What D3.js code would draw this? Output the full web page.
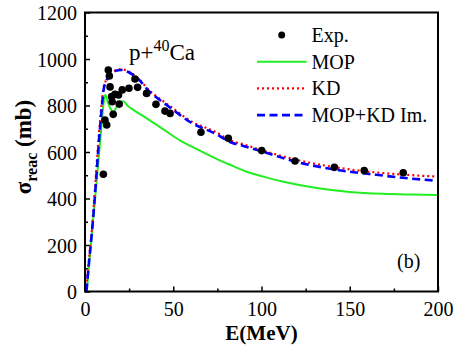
<!DOCTYPE html>
<html>
<head>
<meta charset="utf-8">
<script src="https://cdn.jsdelivr.net/npm/d3@7"></script>
<style>
  body { margin: 0; background: #fff; }
  text { font-family: "Liberation Serif", "Times New Roman", serif; }
</style>
</head>
<body>
<div id="chart"></div>
<script>
// experimental points [E (MeV), sigma (mb)]
var expData = [
  [10.4, 504], [11.3, 737], [12.3, 716], [13.2, 953], [13.8, 927],
  [14.2, 880], [15.1, 838], [15.4, 816], [16.0, 762], [17.0, 848],
  [19.0, 845], [19.4, 806], [21.1, 867], [24.9, 874], [28.3, 914],
  [29.8, 878], [34.9, 852], [40.2, 805], [45.3, 776], [48.2, 766],
  [65.7, 685], [81.2, 659], [100.1, 606], [119.0, 561], [141.3, 534],
  [158.2, 520], [180.3, 511]
];

var mopData = [
  [1, 0], [3, 175], [5, 340], [7, 510], [9, 680], [11, 835], [11.6, 845],
  [13, 812], [14.5, 785], [16, 773], [18, 795], [20, 812], [21.7, 818],
  [24, 800], [27.4, 781], [35, 745], [44.4, 697], [53.8, 650], [63.3, 612],
  [72.7, 577], [82.2, 545], [91.6, 515], [101, 494], [112.4, 472],
  [131.3, 445], [150, 428], [169, 420], [185, 417], [200, 415]
];

var kdData = [
  [0.5, 0], [2, 120], [3.8, 260], [6, 480], [7.5, 640], [8.5, 730],
  [10.4, 870], [12, 910], [14, 935], [17, 950], [20.5, 956], [25, 945],
  [30, 918], [36.8, 862], [40, 843], [49.1, 792], [59.5, 735], [74.6, 684],
  [82.2, 650], [89.7, 633], [100, 608], [120, 566], [135, 543], [150, 525],
  [165, 512], [180, 503], [200, 494]
];

var imData = [
  [0.8, 0], [2.2, 120], [4, 260], [6.3, 480], [7.8, 640], [8.8, 730],
  [10.6, 870], [12.2, 908], [14, 932], [17, 948], [20.5, 953], [25, 942],
  [30, 915], [36.8, 858], [40, 838], [49.1, 786], [59.5, 729], [74.6, 676],
  [82.2, 643], [89.7, 626], [100, 603], [120, 557], [135, 533], [150, 515],
  [165, 502], [180, 489], [200, 476]
];

var xTicks = [0, 50, 100, 150, 200];
var xMinor = [25, 75, 125, 175];
var yTicks = [0, 200, 400, 600, 800, 1000, 1200];
var yMinor = [100, 300, 500, 700, 900, 1100];

var legendItems = [
  { label: "Exp.", type: "dot" },
  { label: "MOP", type: "mop" },
  { label: "KD", type: "kd" },
  { label: "MOP+KD Im.", type: "im" }
];

var svg = d3.select("#chart").append("svg")
  .attr("width", 458)
  .attr("height", 351);

var pLeft = 85, pRight = 438, pTop = 12.5, pBottom = 291.5;

var x = d3.scaleLinear().domain([0, 200]).range([pLeft, pRight]);
var y = d3.scaleLinear().domain([0, 1200]).range([pBottom, pTop]);

svg.append("defs").append("clipPath").attr("id", "plotclip")
  .append("rect")
  .attr("x", pLeft).attr("y", pTop)
  .attr("width", pRight - pLeft).attr("height", pBottom - pTop);

// axes, ticks inward
var xAxis = svg.append("g")
  .attr("transform", "translate(0," + pBottom + ")")
  .call(d3.axisBottom(x).tickValues(xTicks).tickSize(-5).tickPadding(10).tickFormat(d3.format("d")));
var xAxisMinor = svg.append("g")
  .attr("transform", "translate(0," + pBottom + ")")
  .call(d3.axisBottom(x).tickValues(xMinor).tickSize(-3).tickFormat(""));
var yAxis = svg.append("g")
  .attr("transform", "translate(" + pLeft + ",0)")
  .call(d3.axisLeft(y).tickValues(yTicks).tickSize(-5).tickPadding(8).tickFormat(d3.format("d")));
var yAxisMinor = svg.append("g")
  .attr("transform", "translate(" + pLeft + ",0)")
  .call(d3.axisLeft(y).tickValues(yMinor).tickSize(-3).tickFormat(""));

[xAxis, xAxisMinor, yAxis, yAxisMinor].forEach(function (g) {
  g.select(".domain").remove();
  g.selectAll("line").attr("stroke", "#000").attr("stroke-width", 1.5);
  g.selectAll("text")
    .attr("fill", "#000")
    .style("font-family", "'Liberation Serif', 'Times New Roman', serif")
    .style("font-size", "20px");
});
xAxis.selectAll("text").attr("dy", "0.71em");
yAxis.selectAll("text").attr("dy", "0.35em");

// curves
var line = d3.line()
  .x(function (d) { return x(d[0]); })
  .y(function (d) { return y(d[1]); })
  .curve(d3.curveMonotoneX);

var curves = svg.append("g").attr("clip-path", "url(#plotclip)");

curves.append("path").datum(mopData)
  .attr("d", line)
  .attr("fill", "none")
  .attr("stroke", "#22ee22")
  .attr("stroke-width", 2);

curves.append("path").datum(kdData)
  .attr("d", line)
  .attr("fill", "none")
  .attr("stroke", "#ff0000")
  .attr("stroke-width", 2.2)
  .attr("stroke-dasharray", "2,3");

curves.append("path").datum(imData)
  .attr("d", line)
  .attr("fill", "none")
  .attr("stroke", "#0000ff")
  .attr("stroke-width", 2.6)
  .attr("stroke-dasharray", "8,4.5");

svg.append("g").selectAll("circle")
  .data(expData)
  .enter().append("circle")
  .attr("cx", function (d) { return x(d[0]); })
  .attr("cy", function (d) { return y(d[1]); })
  .attr("r", 3.8)
  .attr("fill", "#000");

// frame
svg.append("rect")
  .attr("x", pLeft).attr("y", pTop)
  .attr("width", pRight - pLeft).attr("height", pBottom - pTop)
  .attr("fill", "none")
  .attr("stroke", "#000")
  .attr("stroke-width", 2);

// legend
var leg = svg.append("g");
legendItems.forEach(function (it, i) {
  var ly = 35 + i * 26.7;
  if (it.type == "dot") {
    leg.append("circle").attr("cx", 281.7).attr("cy", ly).attr("r", 3.5).attr("fill", "#000");
  } else {
    var l = leg.append("line")
      .attr("x1", 257).attr("x2", 306.5)
      .attr("y1", ly).attr("y2", ly)
      .attr("fill", "none");
    if (it.type == "mop") l.attr("stroke", "#22ee22").attr("stroke-width", 2);
    if (it.type == "kd") l.attr("stroke", "#ff0000").attr("stroke-width", 2.2).attr("stroke-dasharray", "2,3");
    if (it.type == "im") l.attr("stroke", "#0000ff").attr("stroke-width", 2.6).attr("stroke-dasharray", "8,4.5");
  }
  leg.append("text")
    .attr("x", 311.5).attr("y", ly + 7)
    .attr("font-size", 20)
    .attr("fill", "#000")
    .text(it.label);
});

// reaction label
var rt = svg.append("text")
  .attr("x", 129).attr("y", 60)
  .attr("font-size", 23)
  .attr("fill", "#000");
rt.append("tspan").text("p+");
rt.append("tspan").attr("dy", -9).attr("font-size", 16).text("40");
rt.append("tspan").attr("dy", 9).text("Ca");

svg.append("text")
  .attr("x", 397).attr("y", 268)
  .attr("font-size", 20)
  .attr("fill", "#000")
  .text("(b)");

// axis titles
svg.append("text")
  .attr("x", (pLeft + pRight) / 2).attr("y", 340)
  .attr("text-anchor", "middle")
  .attr("font-size", 21)
  .attr("font-weight", "bold")
  .attr("fill", "#000")
  .text("E(MeV)");

var yl = svg.append("text")
  .attr("transform", "translate(31,147) rotate(-90)")
  .attr("text-anchor", "middle")
  .attr("font-size", 23)
  .attr("font-weight", "bold")
  .attr("fill", "#000");
yl.append("tspan").text("σ");
yl.append("tspan").attr("dy", 6).attr("font-size", 16).text("reac");
yl.append("tspan").attr("dy", -6).text(" (mb)");
</script>
</body>
</html>
